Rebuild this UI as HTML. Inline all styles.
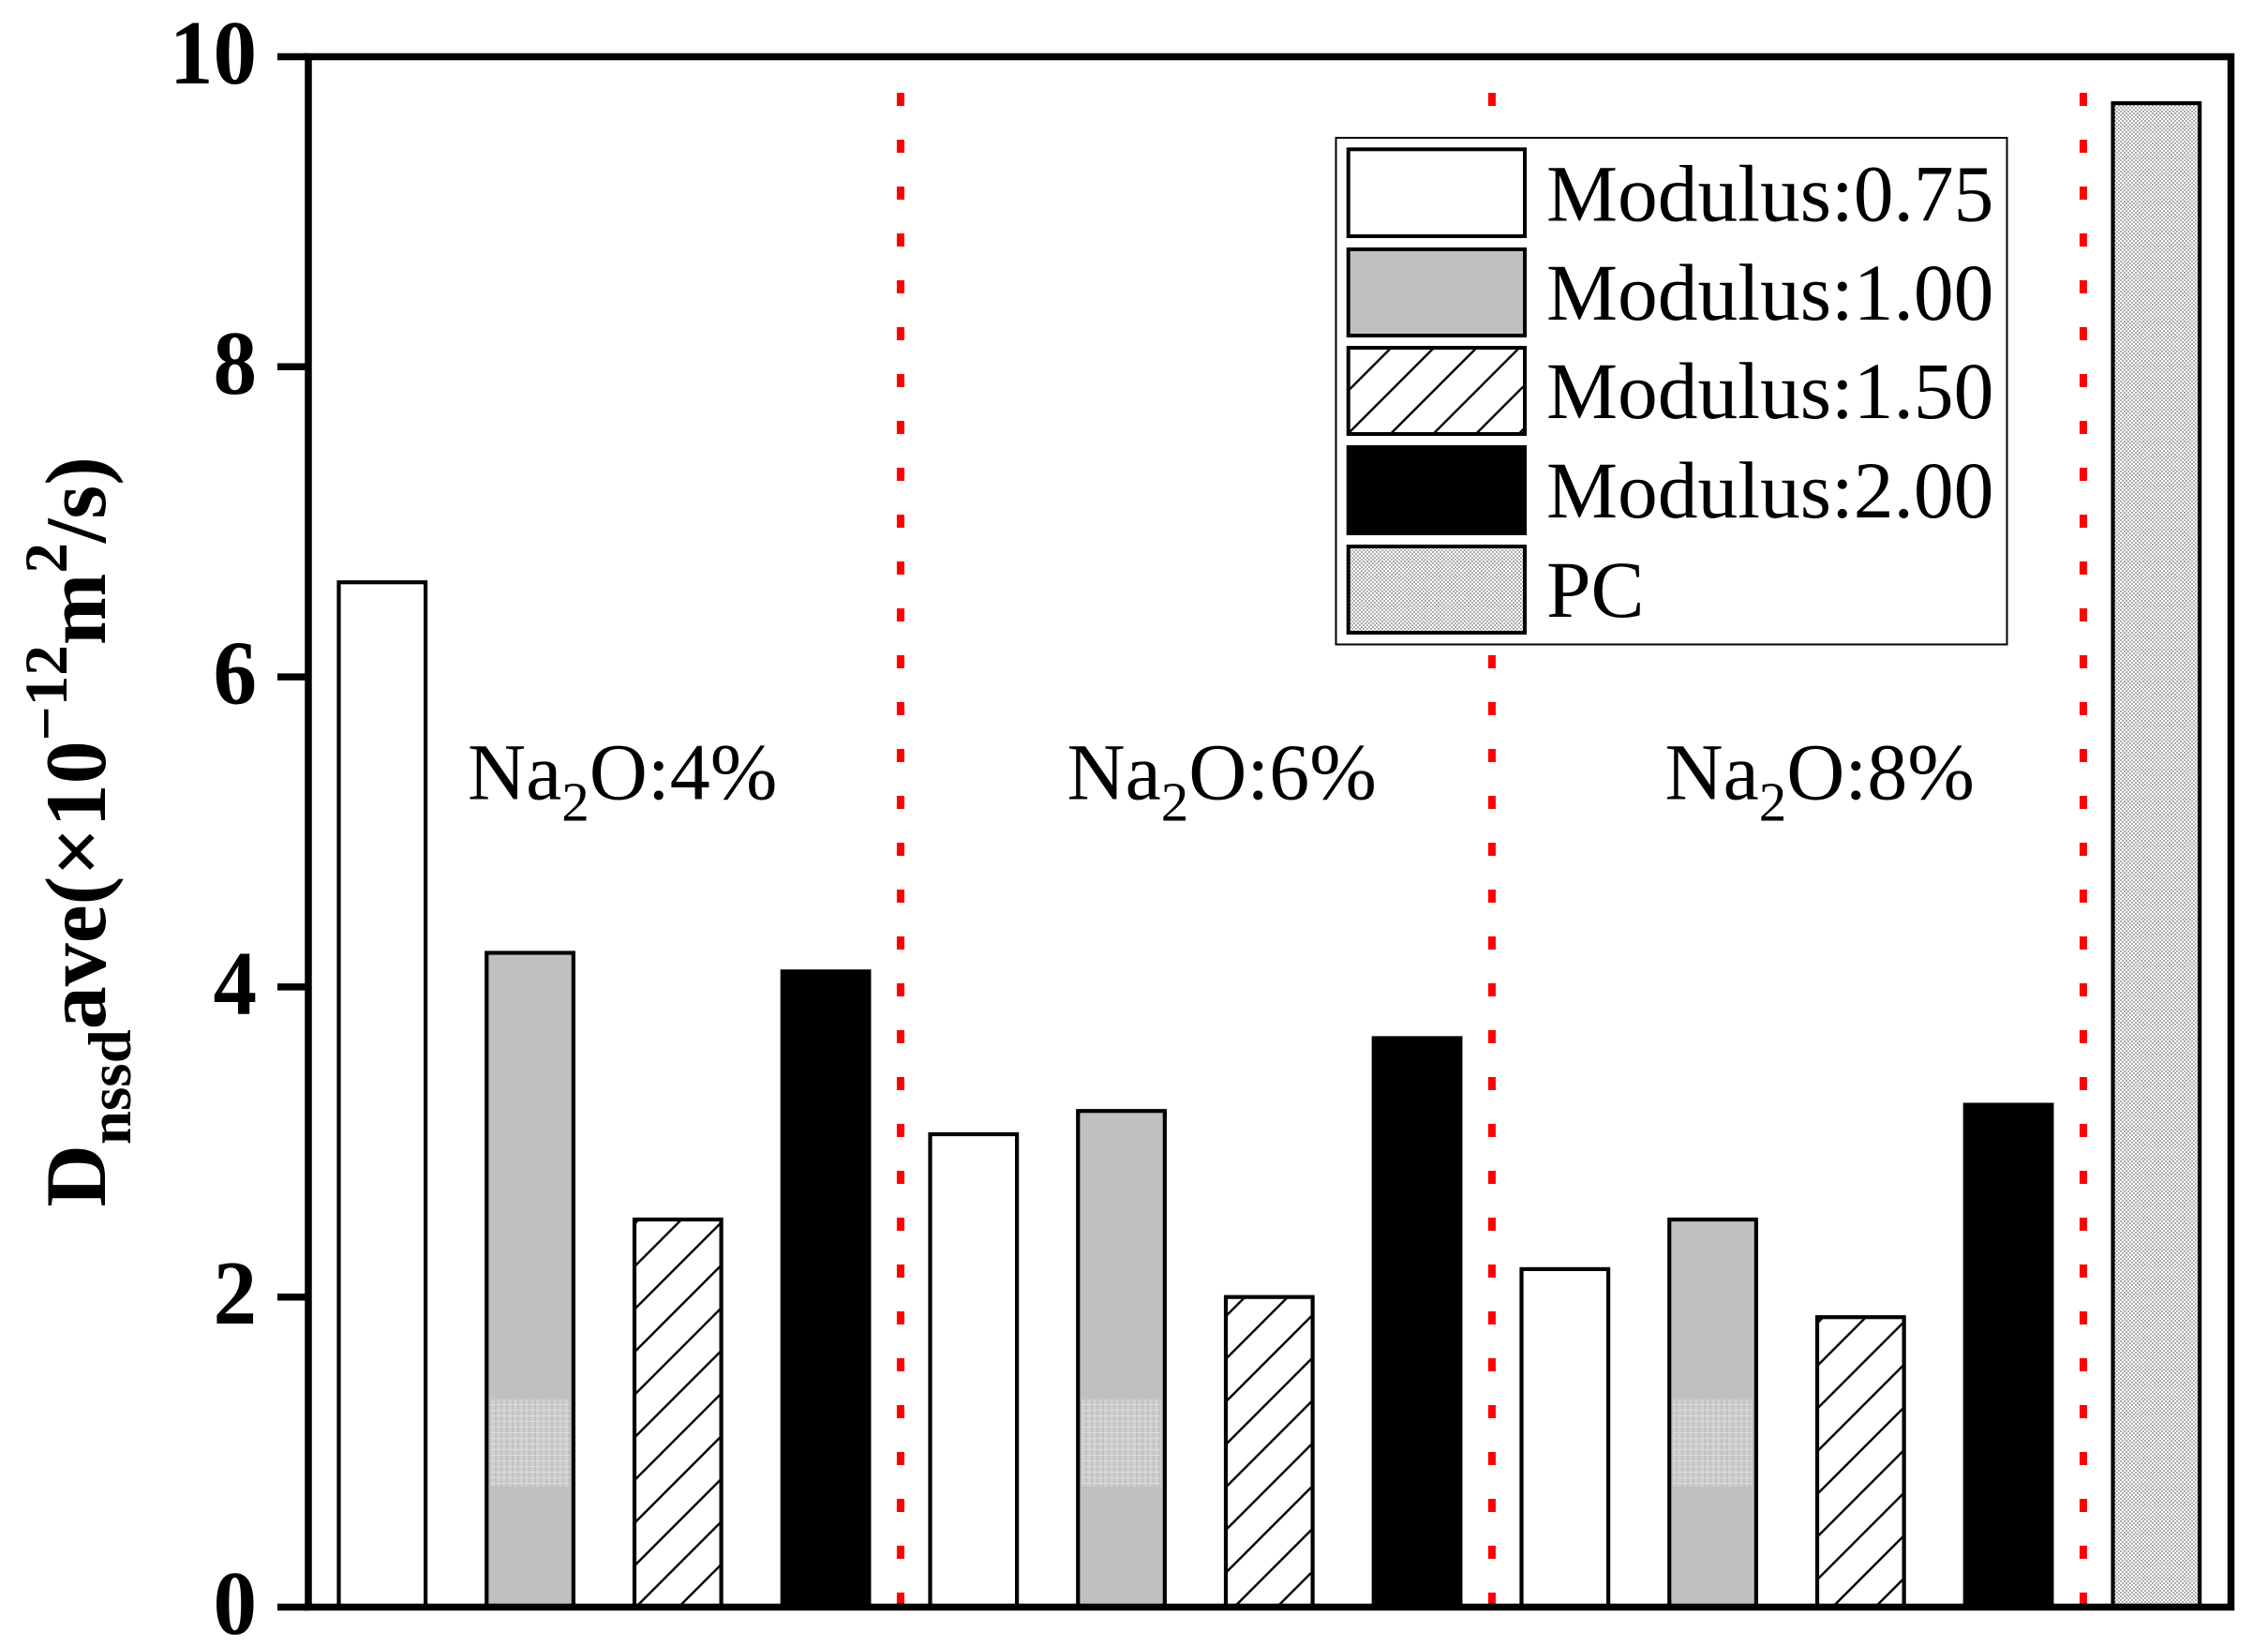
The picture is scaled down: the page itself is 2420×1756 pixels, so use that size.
<!DOCTYPE html>
<html lang="en">
<head>
<meta charset="utf-8">
<title>Dnssd ave bar chart</title>
<style>
html,body{margin:0;padding:0;background:#fff;width:2420px;height:1756px;overflow:hidden}
svg{display:block;font-family:"Liberation Serif",serif}
</style>
</head>
<body>
<svg id="chart" xmlns="http://www.w3.org/2000/svg" width="2420" height="1756" viewBox="0 0 2420 1756">
  <defs>
    <pattern id="hatch" patternUnits="userSpaceOnUse" x="21.8" y="0" width="45.6" height="45.6">
      <path d="M-2,2 L2,-2 M0,45.6 L45.6,0 M43.6,47.6 L47.6,43.6" stroke="#000" stroke-width="2.4" fill="none"/>
    </pattern>
    <pattern id="hatch-legend" patternUnits="userSpaceOnUse" x="31.4" y="0" width="45.6" height="45.6">
      <path d="M-2,2 L2,-2 M0,45.6 L45.6,0 M43.6,47.6 L47.6,43.6" stroke="#000" stroke-width="2.4" fill="none"/>
    </pattern>
    <pattern id="dither" patternUnits="userSpaceOnUse" width="4" height="4">
      <rect width="4" height="4" fill="#fff"/>
      <rect x="0" y="0" width="2" height="2" fill="#adadad"/>
      <rect x="2" y="2" width="2" height="2" fill="#adadad"/>
    </pattern>
    <pattern id="patch" patternUnits="userSpaceOnUse" width="6" height="6">
      <rect width="6" height="6" fill="#cfcfcf"/>
      <rect x="0" y="0" width="2" height="6" fill="#c0c0c0"/>
      <rect x="0" y="4" width="6" height="1" fill="#dcdcdc"/>
    </pattern>
  </defs>
  <rect width="2420" height="1756" fill="#fff"/>
  <g id="separators"></g>
  <g id="bars"></g>
  <g id="ticks"></g>
  <rect x="329" y="60.5" width="2051.5" height="1654" fill="none" stroke="#000" stroke-width="7.5"/>
  <text transform="translate(112,1287.6) rotate(-90)" font-size="92" font-weight="bold" fill="#000">D<tspan font-size="65" dy="27">nssd</tspan><tspan dy="-27">ave(×10</tspan><tspan font-size="65" dy="-41">−12</tspan><tspan dy="41">m</tspan><tspan font-size="65" dy="-41">2</tspan><tspan dy="41">/s)</tspan></text>
  <text x="499" y="852.7" font-size="86" fill="#000">Na<tspan font-size="59" dy="23">2</tspan><tspan dy="-23">O:4%</tspan></text>
  <text x="1138.5" y="852.7" font-size="86" fill="#000">Na<tspan font-size="59" dy="23">2</tspan><tspan dy="-23">O:6%</tspan></text>
  <text x="1776.5" y="852.7" font-size="86" fill="#000">Na<tspan font-size="59" dy="23">2</tspan><tspan dy="-23">O:8%</tspan></text>
  <g id="legend">
    <rect x="1425.5" y="147" width="716" height="540.5" fill="#fff" stroke="#000" stroke-width="2"/>
    <rect x="1438.7" y="159.3" width="188.3" height="92.7" fill="#fff" stroke="#000" stroke-width="4"/>
    <text x="1650" y="235.5" font-size="85.5" fill="#000">Modulus:0.75</text>
    <rect x="1438.7" y="266" width="188.3" height="92" fill="#c0c0c0" stroke="#000" stroke-width="4"/>
    <text x="1650" y="341" font-size="85.5" fill="#000">Modulus:1.00</text>
    <rect x="1438.7" y="371" width="188.3" height="92" fill="url(#hatch-legend)" stroke="#000" stroke-width="4"/>
    <text x="1650" y="446" font-size="85.5" fill="#000">Modulus:1.50</text>
    <rect x="1438.7" y="477" width="188.3" height="92" fill="#000" stroke="#000" stroke-width="4"/>
    <text x="1650" y="552" font-size="85.5" fill="#000">Modulus:2.00</text>
    <rect x="1438.7" y="583" width="188.3" height="92" fill="url(#dither)" stroke="#000" stroke-width="4"/>
    <text x="1650" y="658" font-size="85.5" fill="#000">PC</text>
  </g>
</svg>
<script>
const barLabels = ['4-0.75','4-1.00','4-1.50','4-2.00','6-0.75','6-1.00','6-1.50','6-2.00','8-0.75','8-1.00','8-1.50','8-2.00','PC'];
const barValues = [6.61,4.22,2.5,4.1,3.05,3.2,2.0,3.67,2.18,2.5,1.87,3.24,9.7];
const barKinds = ['open','gray','hatch','solid','open','gray','hatch','solid','open','gray','hatch','solid','pc'];
const tickValues = [0,2,4,6,8,10];
const separatorPositions = [3.5,7.5,11.5];
const patchRange = [0.78,1.34];

const NS = 'http://www.w3.org/2000/svg';
function yScale(v){ return 1714.5 - v * 165.4; }
function xLeft(i){ return 361.5 + i * 157.75; }
const BAR_W = 92.6;
const fills = {open:'#fff', gray:'#c0c0c0', hatch:'url(#hatch)', solid:'#000', pc:'url(#dither)'};

const barsG = document.getElementById('bars');
barValues.forEach(function(v,i){
  const r = document.createElementNS(NS,'rect');
  
  
  r.setAttribute('x', xLeft(i));
  r.setAttribute('y', yScale(v));
  r.setAttribute('width', BAR_W);
  r.setAttribute('height', yScale(0) - yScale(v));
  r.setAttribute('fill', fills[barKinds[i]]);
  r.setAttribute('stroke', '#000');
  r.setAttribute('stroke-width', '4.2');
  barsG.appendChild(r);
  if (barKinds[i] === 'gray') {
    const p = document.createElementNS(NS,'rect');
    
    
    p.setAttribute('x', xLeft(i) + 4);
    p.setAttribute('y', yScale(patchRange[1]));
    p.setAttribute('width', BAR_W - 8);
    p.setAttribute('height', yScale(patchRange[0]) - yScale(patchRange[1]));
    p.setAttribute('fill', 'url(#patch)');
    barsG.appendChild(p);
  }
});

const sepG = document.getElementById('separators');
separatorPositions.forEach(function(pos){
  const l = document.createElementNS(NS,'line');
  const x = xLeft(pos) + BAR_W / 2 + 1;
  
  
  l.setAttribute('x1', x);
  l.setAttribute('x2', x);
  l.setAttribute('y1', 99);
  l.setAttribute('y2', 1712);
  l.setAttribute('stroke', '#ff0000');
  l.setAttribute('stroke-width', '8');
  l.setAttribute('stroke-dasharray', '14 36');
  sepG.appendChild(l);
});

const ticksG = document.getElementById('ticks');
tickValues.forEach(function(t){
  const l = document.createElementNS(NS,'line');
  
  
  l.setAttribute('x1', 296);
  l.setAttribute('x2', 329);
  l.setAttribute('y1', yScale(t));
  l.setAttribute('y2', yScale(t));
  l.setAttribute('stroke', '#000');
  l.setAttribute('stroke-width', '7.5');
  ticksG.appendChild(l);
  const s = document.createElementNS(NS,'text');
  
  
  s.setAttribute('transform', 'translate(274,' + (yScale(t) + 28.5) + ') scale(0.95,1)');
  s.setAttribute('text-anchor', 'end');
  s.setAttribute('font-size', '98');
  s.setAttribute('font-weight', 'bold');
  s.setAttribute('fill', '#000');
  s.textContent = String(t);
  ticksG.appendChild(s);
});
</script>
</body>
</html>
